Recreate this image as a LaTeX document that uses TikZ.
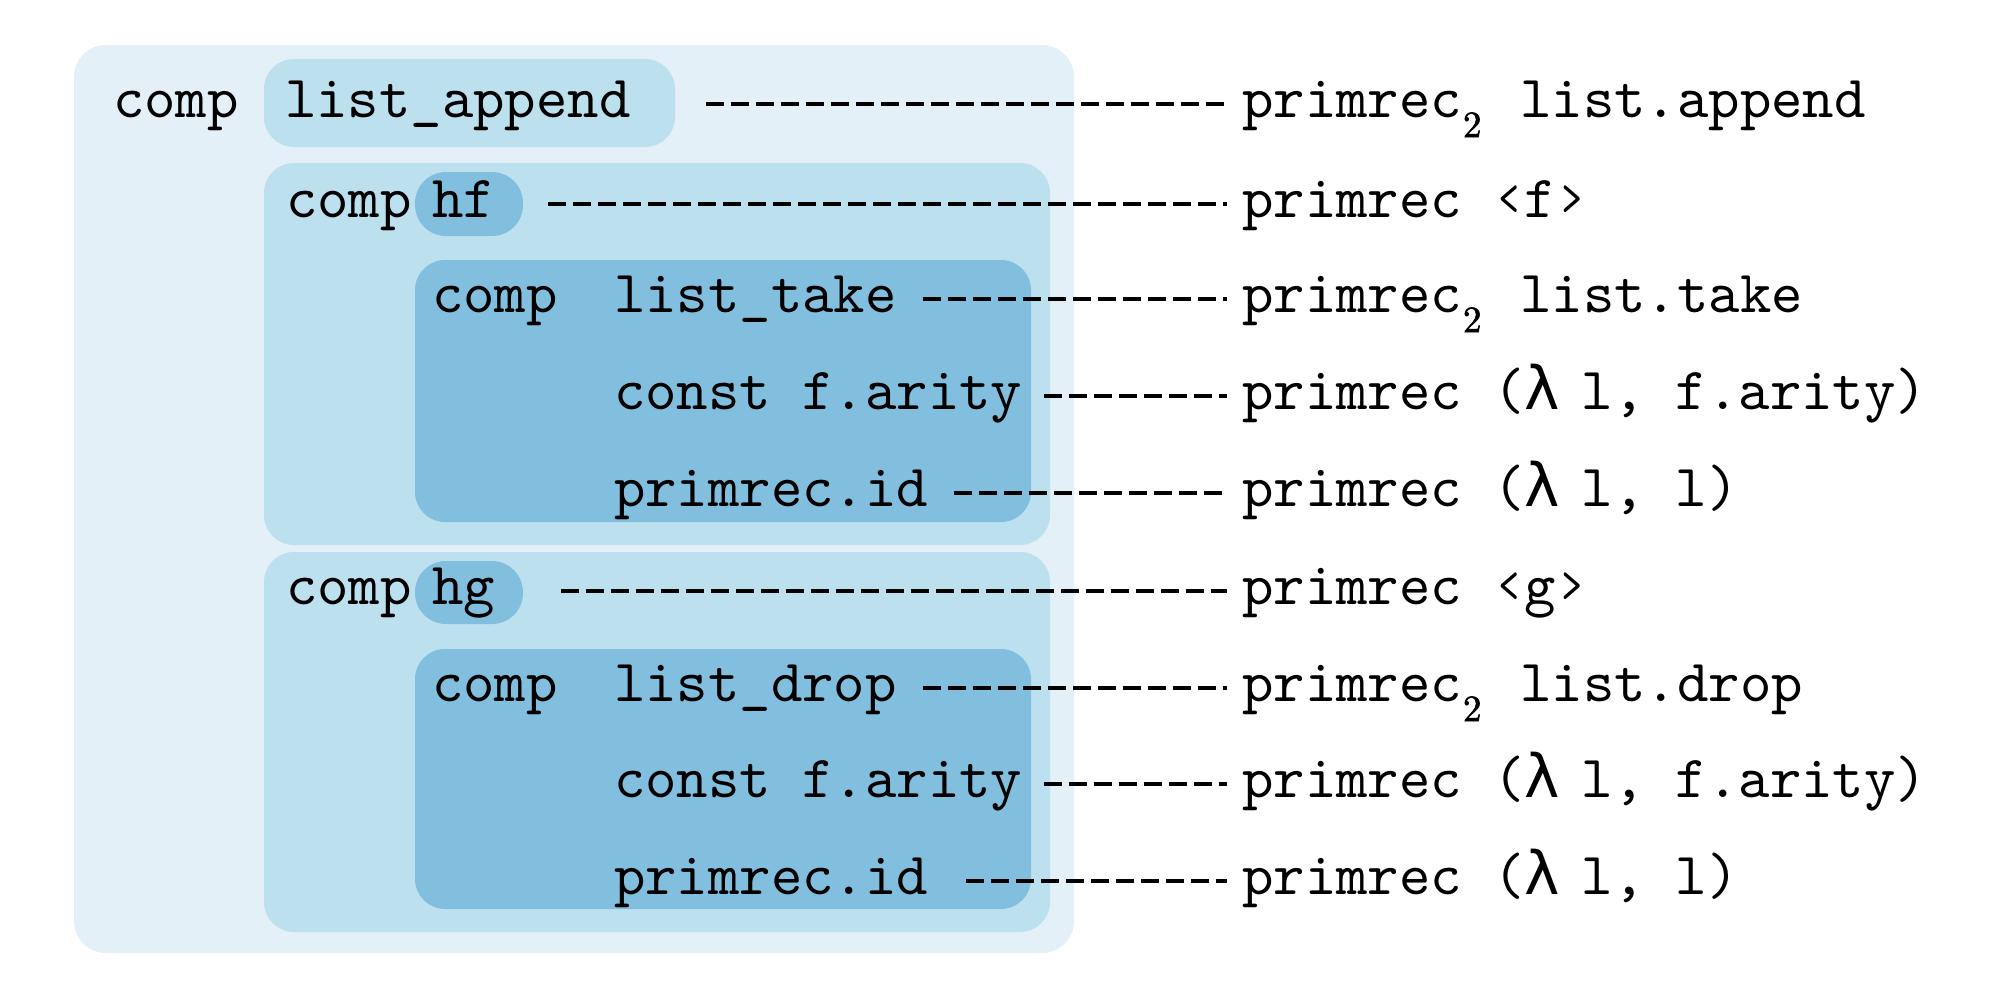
\documentclass[tikz,border=0pt]{standalone}
\usepackage{fontspec}
\setmonofont{lmmono10-regular.otf}
\newfontfamily\lamfont{DejaVu Sans}
\newfontfamily\subfont[FakeBold=1.5]{lmroman10-regular.otf}
\definecolor{boxA}{RGB}{227,240,247}
\definecolor{boxB}{RGB}{189,224,239}
\definecolor{boxC}{RGB}{130,191,223}
\newcommand\codesize{\fontsize{59.8}{60}\selectfont}
\newcommand\subtwo{\makebox[27pt][l]{\hspace{1pt}\raisebox{-20pt}{\fontsize{37}{37}\selectfont\subfont 2}}}
\newcommand\lam{\makebox[57pt][l]{\lamfont λ}}
\tikzset{
  txt/.style={anchor=base west, inner sep=0pt, font=\codesize\ttfamily},
  conn/.style={line width=3.3pt, dash pattern=on 18pt off 7pt},
  bigbox/.style={rounded corners=32pt},
  midbox/.style={rounded corners=30pt},
  pillbox/.style={rounded corners=31pt},
}
\begin{document}
\begin{tikzpicture}[x=1pt,y=-1pt]
\useasboundingbox (0,0) rectangle (2000,997);
% boxes
\fill[boxA, bigbox] (74,45) rectangle (1074,953);
\fill[boxB, midbox] (264,59) rectangle (675,147);
\fill[boxB, midbox] (264,163) rectangle (1050,545);
\fill[boxC, pillbox] (415,172) rectangle (523,236);
\fill[boxC, midbox] (415,260) rectangle (1031,522);
\fill[boxB, midbox] (264,552) rectangle (1050,932);
\fill[boxC, pillbox] (415,561) rectangle (523,624);
\fill[boxC, midbox] (415,649) rectangle (1031,909);
% left texts
\node[txt] (compA) at (113,117) {comp};
\node[txt] (la) at (285,117) {list\_append};
\node[txt] (compB) at (286,217) {comp};
\node[txt] (hf) at (432,217) {hf};
\node[txt] (compC) at (432,312) {comp};
\node[txt] (lt) at (614,312) {list\_take};
\node[txt] (cfA) at (614,409) {const f.arity};
\node[txt] (idA) at (614,506) {primrec.id};
\node[txt] (compD) at (286,604) {comp};
\node[txt] (hg) at (432,604) {hg};
\node[txt] (compE) at (432,701) {comp};
\node[txt] (ld) at (614,701) {list\_drop};
\node[txt] (cfB) at (614,797) {const f.arity};
\node[txt] (idB) at (614,894) {primrec.id};
% right labels
\node[txt] (rA) at (1242,117) {primrec\subtwo{} list.append};
\node[txt] (rB) at (1242,217) {primrec ‹f›};
\node[txt] (rC) at (1242,312) {primrec\subtwo{} list.take};
\node[txt] (rD) at (1242,409) {primrec (\lam l, f.arity)};
\node[txt] (rE) at (1242,506) {primrec (\lam l, l)};
\node[txt] (rF) at (1242,604) {primrec ‹g›};
\node[txt] (rG) at (1242,701) {primrec\subtwo{} list.drop};
\node[txt] (rH) at (1242,797) {primrec (\lam l, f.arity)};
\node[txt] (rI) at (1242,894) {primrec (\lam l, l)};
% connectors
\draw[conn] ([shift={(75,-13)}]la.base east) -- ([shift={(-15,-13)}]rA.base west);
\draw[conn] ([shift={(53,-13)}]hf.base east) -- ([shift={(-15,-13)}]rB.base west);
\draw[conn] ([shift={(26,-13)}]lt.base east) -- ([shift={(-15,-13)}]rC.base west);
\draw[conn] ([shift={(21,-13)}]cfA.base east) -- ([shift={(-15,-13)}]rD.base west);
\draw[conn] ([shift={(26,-13)}]idA.base east) -- ([shift={(-15,-13)}]rE.base west);
\draw[conn] ([shift={(66,-13)}]hg.base east) -- ([shift={(-15,-13)}]rF.base west);
\draw[conn] ([shift={(26,-13)}]ld.base east) -- ([shift={(-15,-13)}]rG.base west);
\draw[conn] ([shift={(21,-13)}]cfB.base east) -- ([shift={(-15,-13)}]rH.base west);
\draw[conn] ([shift={(38,-13)}]idB.base east) -- ([shift={(-15,-13)}]rI.base west);
\end{tikzpicture}
\end{document}
